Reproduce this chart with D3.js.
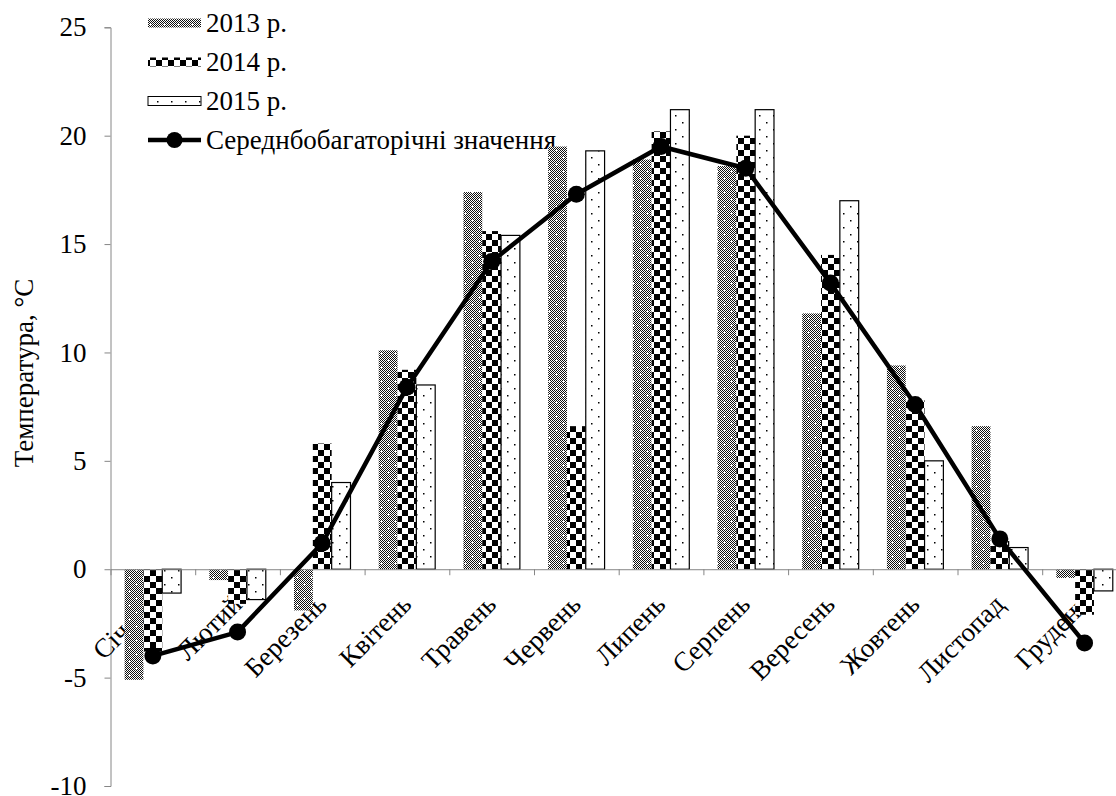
<!DOCTYPE html>
<html>
<head>
<meta charset="utf-8">
<script src="https://cdn.jsdelivr.net/npm/d3@7"></script>
<style>
  body { margin: 0; background: #fff; }
  svg { display: block; }
</style>
</head>
<body>
<script>
let months = ["Січень", "Лютий", "Березень", "Квітень", "Травень", "Червень",
  "Липень", "Серпень", "Вересень", "Жовтень", "Листопад", "Грудень"];
let series = ["2013 р.", "2014 р.", "2015 р."];
let t2013 = [-5.1, -0.5, -1.9, 10.1, 17.4, 19.5, 18.9, 18.6, 11.8, 9.4, 6.6, -0.4];
let t2014 = [-3.8, -1.6, 5.8, 9.2, 15.6, 6.6, 20.2, 20.0, 14.5, 7.8, 1.3, -2.1];
let t2015 = [-1.1, -1.4, 4.0, 8.5, 15.4, 19.3, 21.2, 21.2, 17.0, 5.0, 1.0, -1.0];
let tNorm = [-4.0, -2.9, 1.2, 8.4, 14.2, 17.3, 19.5, 18.5, 13.2, 7.6, 1.4, -3.4];
let normLabel = "Середнбобагаторічні значення";
let yTicks = [-10, -5, 0, 5, 10, 15, 20, 25];

let width = 1116, height = 796;
let left = 110.5, step = 84.7;
let axisGray = "#868686";
let fontSize = 27;
let serif = "'Liberation Serif'";

let svg = d3.select("body").append("svg")
  .attr("width", width)
  .attr("height", height);

// patterns
let defs = svg.append("defs");

let chk = defs.append("pattern").attr("id", "px").attr("patternUnits", "userSpaceOnUse")
  .attr("width", 2).attr("height", 2);
chk.append("rect").attr("width", 2).attr("height", 2).attr("fill", "#fff");
chk.append("rect").attr("width", 1).attr("height", 1).attr("fill", "#111");
chk.append("rect").attr("x", 1).attr("y", 1).attr("width", 1).attr("height", 1).attr("fill", "#111");

let p13 = defs.append("pattern").attr("id", "p2013").attr("patternUnits", "userSpaceOnUse")
  .attr("width", 14).attr("height", 14);
p13.append("rect").attr("width", 14).attr("height", 14).attr("fill", "url(#px)");
[[3, 3], [10, 10]].forEach(function (c) {
  p13.append("rect").attr("x", c[0] - 1).attr("y", c[1]).attr("width", 3).attr("height", 1).attr("fill", "#fff");
  p13.append("rect").attr("x", c[0]).attr("y", c[1] - 1).attr("width", 1).attr("height", 3).attr("fill", "#fff");
});

let p14 = defs.append("pattern").attr("id", "p2014").attr("patternUnits", "userSpaceOnUse")
  .attr("width", 12).attr("height", 12);
p14.append("rect").attr("width", 12).attr("height", 12).attr("fill", "#fff");
p14.append("rect").attr("width", 6).attr("height", 6).attr("fill", "#000");
p14.append("rect").attr("x", 6).attr("y", 6).attr("width", 6).attr("height", 6).attr("fill", "#000");

let p15 = defs.append("pattern").attr("id", "p2015").attr("patternUnits", "userSpaceOnUse")
  .attr("width", 14).attr("height", 14);
p15.append("rect").attr("width", 14).attr("height", 14).attr("fill", "#fff");
p15.append("rect").attr("x", 3).attr("y", 3).attr("width", 1.5).attr("height", 1.5).attr("fill", "#000");
p15.append("rect").attr("x", 10).attr("y", 10).attr("width", 1.5).attr("height", 1.5).attr("fill", "#000");

let fills = ["url(#p2013)", "url(#p2014)", "url(#p2015)"];
let strokes = ["none", "none", "#000"];

// scales
let y = d3.scaleLinear().domain([-10, 25]).range([786, 27.3]);
let x0 = d3.scaleBand().domain(months).range([left, left + step * months.length]).padding(0);
let x1 = d3.scaleBand().domain(series).range([0, x0.bandwidth()]).paddingInner(0).paddingOuter(0.75);
let xl = d3.scaleLinear().domain([0, months.length]).range([left, left + step * months.length]);

// y axis
let yAxis = svg.append("g")
  .attr("transform", "translate(" + left + ",0)")
  .call(d3.axisLeft(y).tickValues(yTicks).tickFormat(function (d) { return String(d); })
    .tickSize(6).tickPadding(18).tickSizeOuter(6));
yAxis.attr("font-family", null).attr("font-size", null);
yAxis.selectAll("path, line").attr("stroke", axisGray);
yAxis.selectAll("text").attr("font-size", fontSize).style("font-family", serif).attr("fill", "#000");

svg.append("text")
  .attr("transform", "translate(33," + 373 + ") rotate(-90)")
  .attr("text-anchor", "middle")
  .attr("font-size", fontSize)
  .style("font-family", serif)
  .text("Температура, °С");

// category labels (under bars)
svg.append("g").selectAll("text").data(months).enter().append("text")
  .attr("transform", function (d) {
    return "translate(" + (x0(d) + x0.bandwidth() / 2 + 6) + ",606) rotate(-45)";
  })
  .attr("text-anchor", "end")
  .attr("font-size", fontSize)
  .style("font-family", serif)
  .text(function (d) { return d; });

// legend
let legend = svg.append("g");
series.forEach(function (s, i) {
  let cy = 23 + i * 39;
  legend.append("rect")
    .attr("x", 148).attr("y", cy - 4.5).attr("width", 53).attr("height", 9)
    .attr("fill", fills[i]).attr("stroke", strokes[i]).attr("stroke-width", 1);
  legend.append("text").attr("x", 206).attr("y", cy).attr("dy", "0.35em")
    .attr("font-size", fontSize).style("font-family", serif).text(s);
});
legend.append("line").attr("x1", 148).attr("x2", 201).attr("y1", 140).attr("y2", 140)
  .attr("stroke", "#000").attr("stroke-width", 4.5);
legend.append("circle").attr("cx", 174.5).attr("cy", 140).attr("r", 8).attr("fill", "#000");
legend.append("text").attr("x", 206).attr("y", 140).attr("dy", "0.35em")
  .attr("font-size", fontSize).style("font-family", serif).text(normLabel);

// bars
let allSeries = [t2013, t2014, t2015];
let groups = svg.append("g").selectAll("g").data(allSeries).enter().append("g")
  .attr("fill", function (d, i) { return fills[i]; })
  .attr("stroke", function (d, i) { return strokes[i]; })
  .attr("stroke-width", 1.2);

groups.each(function (vals, si) {
  d3.select(this).selectAll("rect").data(vals).enter().append("rect")
    .attr("x", function (d, i) { return x0(months[i]) + x1(series[si]); })
    .attr("width", x1.bandwidth())
    .attr("y", function (d) { return y(Math.max(0, d)); })
    .attr("height", function (d) { return Math.abs(y(d) - y(0)); });
});

// x axis at zero
let xAxis = svg.append("g")
  .attr("transform", "translate(0," + y(0) + ")")
  .call(d3.axisBottom(xl).tickValues(d3.range(0, months.length + 1)).tickFormat("").tickSize(6).tickSizeOuter(0));
xAxis.selectAll("path, line").attr("stroke", axisGray);

// average line
let line = d3.line()
  .x(function (d, i) { return x0(months[i]) + x0.bandwidth() / 2; })
  .y(function (d) { return y(d); });

svg.append("path").datum(tNorm)
  .attr("d", line)
  .attr("fill", "none")
  .attr("stroke", "#000")
  .attr("stroke-width", 4.5)
  .attr("stroke-linejoin", "round");

svg.append("g").selectAll("circle").data(tNorm).enter().append("circle")
  .attr("cx", function (d, i) { return x0(months[i]) + x0.bandwidth() / 2; })
  .attr("cy", function (d) { return y(d); })
  .attr("r", 8.5)
  .attr("fill", "#000");
</script>
</body>
</html>
